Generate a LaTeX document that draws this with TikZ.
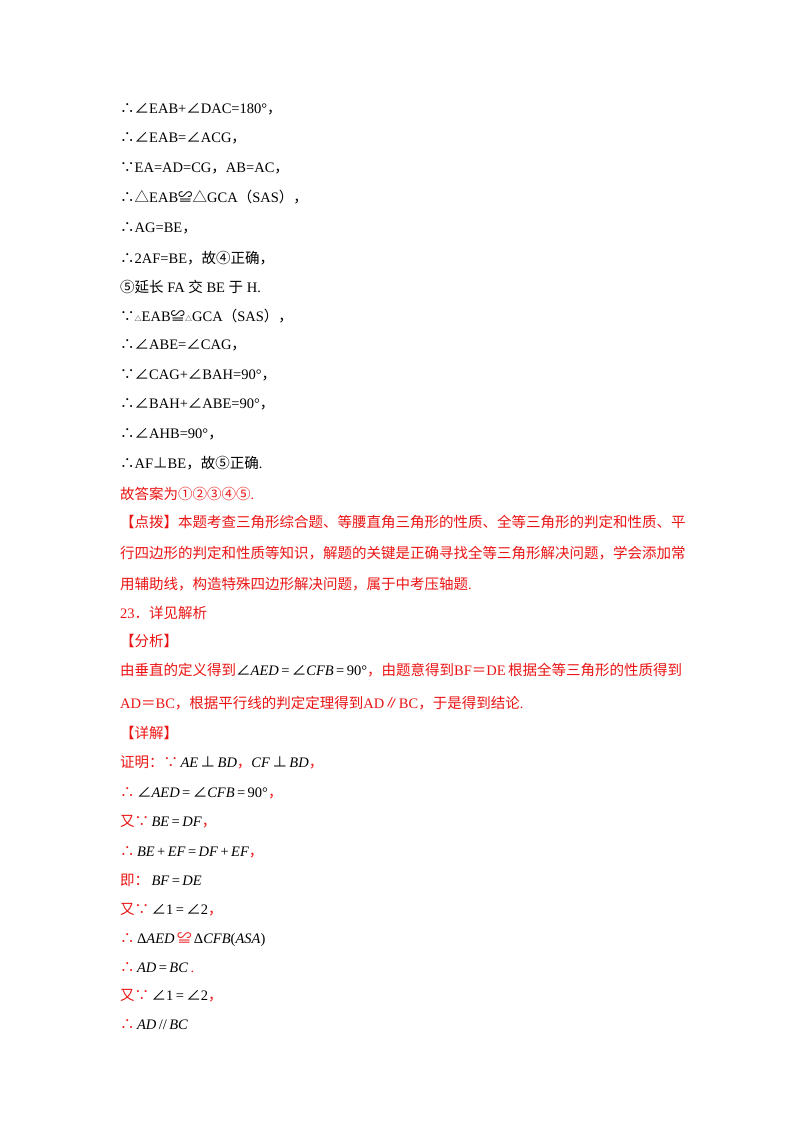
\documentclass[tikz,border=0pt]{standalone}
\usepackage{fontspec}
\setmainfont{Liberation Serif}
\newfontfamily\cjk{Noto Sans CJK SC}
\newcommand\C[1]{{\cjk #1}}
\newcommand\I[1]{\textit{#1}}
\newcommand\ang{{\cjk ∠}}
\definecolor{ansred}{RGB}{235,20,20}
\begin{document}
\begin{tikzpicture}[x=1pt,y=-1pt,
  ln/.style={anchor=base west,inner sep=0pt,font=\fontsize{14.5}{14.5}\selectfont},
  rl/.style={ln,text=ansred}]
\useasboundingbox (0,0) rectangle (800,1132);
\fill[white] (0,0) rectangle (800,1132);
\node[ln] (l1) at (120,113) {\C{∴∠}EAB+\C{∠}DAC=180°\C{，}};
\node[ln] (l2) at (120,142) {\C{∴∠}EAB=\C{∠}ACG\C{，}};
\node[ln] (l3) at (120,172) {\C{∵}EA=AD=CG\C{，}AB=AC\C{，}};
\node[ln] (l4) at (120,202) {\C{∴△}EAB\C{≌△}GCA\C{（}SAS\C{），}};
\node[ln] (l5) at (120,232) {\C{∴}AG=BE\C{，}};
\node[ln] (l6) at (120,263) {\C{∴}2AF=BE\C{，故④正确，}};
\node[ln] (l7) at (120,292) {\C{⑤延长} FA \C{交} BE \C{于} H.};
\node[ln] (l8) at (120,321) {\C{∵}{\scriptsize\C{△}}EAB\C{≌}{\scriptsize\C{△}}GCA\C{（}SAS\C{），}};
\node[ln] (l9) at (120,349) {\C{∴∠}ABE=\C{∠}CAG\C{，}};
\node[ln] (l10) at (120,379) {\C{∵∠}CAG+\C{∠}BAH=90°\C{，}};
\node[ln] (l11) at (120,408) {\C{∴∠}BAH+\C{∠}ABE=90°\C{，}};
\node[ln] (l12) at (120,438) {\C{∴∠}AHB=90°\C{，}};
\node[ln] (l13) at (120,468) {\C{∴}AF\C{⊥}BE\C{，故⑤正确}.};
\node[rl] (l14) at (120,499) {\C{故答案为①②③④⑤}.};
\node[rl] (l15) at (120,527) {\C{【点拨】本题考查三角形综合题、等腰直角三角形的性质、全等三角形的判定和性质、平}};
\node[rl] (l16) at (120,558) {\C{行四边形的判定和性质等知识，解题的关键是正确寻找全等三角形解决问题，学会添加常}};
\node[rl] (l17) at (120,589) {\C{用辅助线，构造特殊四边形解决问题，属于中考压轴题}.};
\node[rl] (l18) at (120,618) {23\C{．详见解析}};
\node[rl] (l19) at (120,646) {\C{【分析】}};
\node[rl] (l20) at (120,675) {\C{由垂直的定义得到}\textcolor{black}{\ang\I{AED}\,=\,\ang\I{CFB}\,=\,90°}\C{，由题意得到}BF\C{＝}DE\,\C{根据全等三角形的性质得到}};
\node[rl] (l21) at (120,708) {AD\C{＝}BC\C{，根据平行线的判定定理得到}AD\C{∥}BC\C{，于是得到结论}.};
\node[rl] (l22) at (120,738) {\C{【详解】}};
\node[rl] (l23) at (120,767) {\C{证明：∵}\textcolor{black}{\,\I{AE}\,\C{⊥}\,\I{BD}}\C{，}\textcolor{black}{\I{CF}\,\C{⊥}\,\I{BD}}\C{，}};
\node[rl] (l24) at (120,797) {\C{∴}\textcolor{black}{\,\ang\I{AED}\,=\,\ang\I{CFB}\,=\,90°}\C{，}};
\node[rl] (l25) at (120,826) {\C{又∵}\textcolor{black}{\,\I{BE}\,=\,\I{DF}}\C{，}};
\node[rl] (l26) at (120,856) {\C{∴}\textcolor{black}{\,\I{BE}\,+\,\I{EF}\,=\,\I{DF}\,+\,\I{EF}}\C{，}};
\node[rl] (l27) at (120,885) {\C{即：}\textcolor{black}{\,\I{BF}\,=\,\I{DE}}};
\node[rl] (l28) at (120,914) {\C{又∵}\textcolor{black}{\,\ang1\,=\,\ang2}\C{，}};
\node[rl] (l29) at (120,943) {\C{∴}\textcolor{black}{\,Δ\I{AED}}\,\C{≌}\,\textcolor{black}{Δ\I{CFB}(\I{ASA})}};
\node[rl] (l30) at (120,972) {\C{∴}\textcolor{black}{\,\I{AD}\,=\,\I{BC}}\,.};
\node[rl] (l31) at (120,1000) {\C{又∵}\textcolor{black}{\,\ang1\,=\,\ang2}\C{，}};
\node[rl] (l32) at (120,1029) {\C{∴}\textcolor{black}{\,\I{AD}\,//\,\I{BC}}};
\end{tikzpicture}
\end{document}
